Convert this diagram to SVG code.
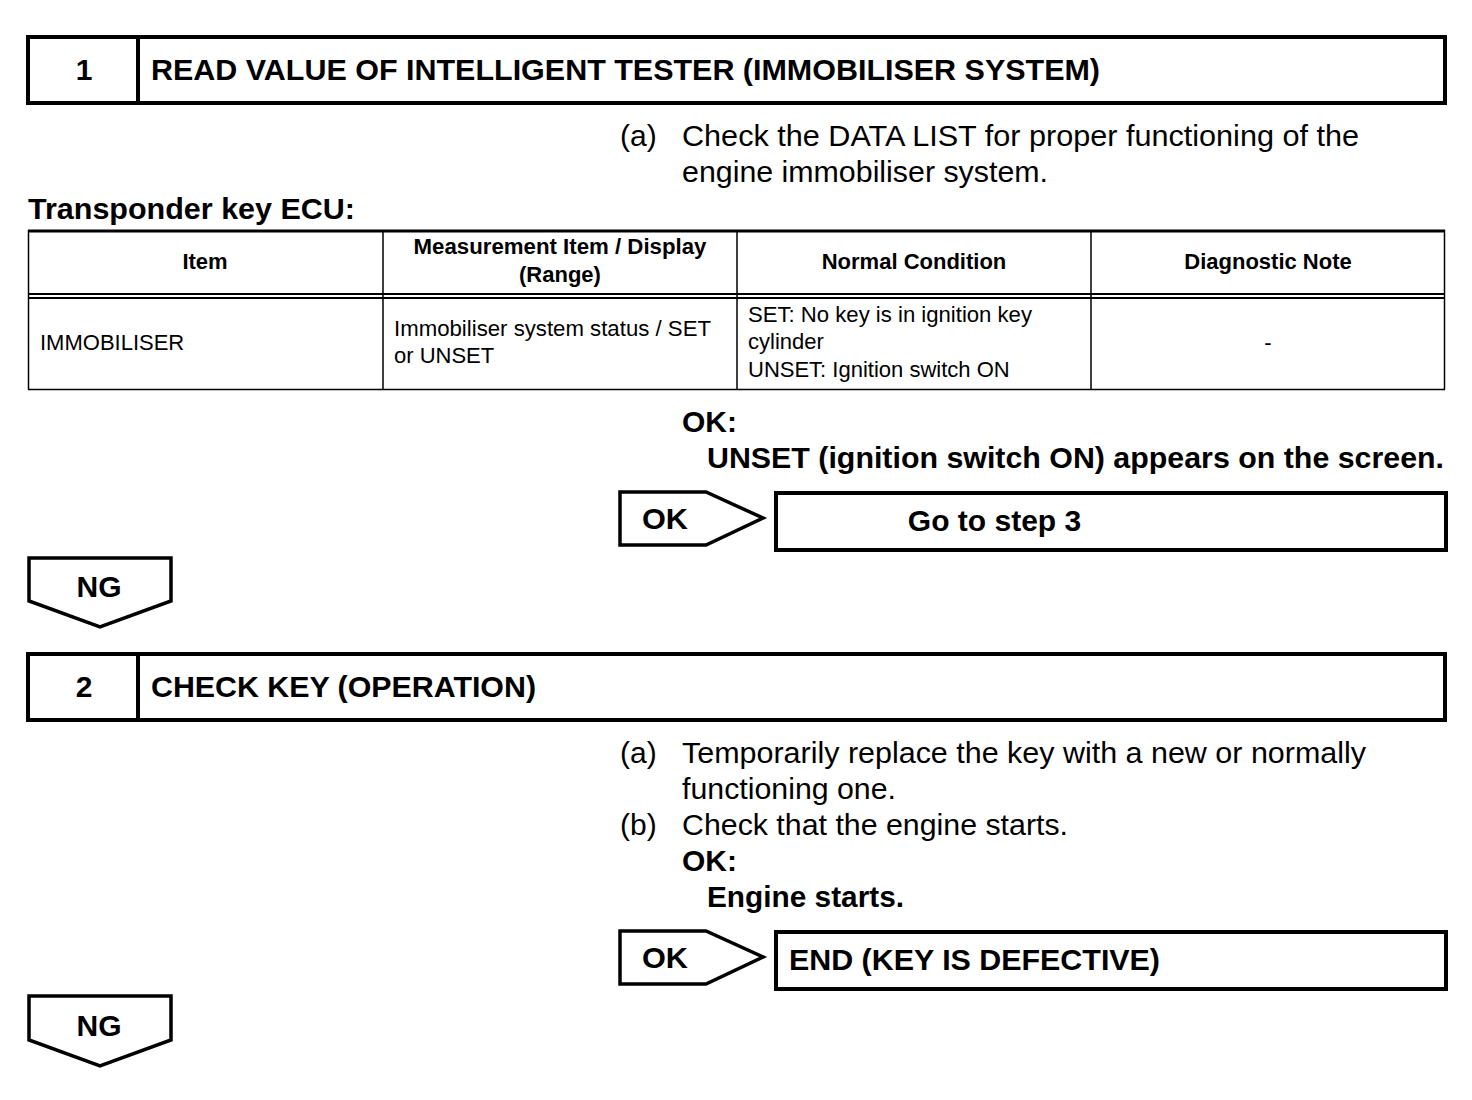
<svg xmlns="http://www.w3.org/2000/svg" width="1472" height="1100" viewBox="0 0 1472 1100">
<style>
text{font-family:"Liberation Sans",Arial,sans-serif;fill:#000}
.hd{font-size:30px;font-weight:bold}
.t{font-size:30px}
.tb{font-size:30px;font-weight:bold}
.th{font-size:22px;font-weight:bold}
.td{font-size:22px}
.box{fill:#fff;stroke:#000;stroke-width:4}
.line{stroke:#000;stroke-width:4;fill:none}
.thin{stroke:#000;stroke-width:1.5;fill:none}
.btn{fill:#fff;stroke:#000;stroke-width:3.5}
</style>
<rect width="1472" height="1100" fill="#fff"/>

<g id="step1-header">
<rect class="box" x="28" y="37" width="1417" height="66"/>
<line class="line" x1="138" y1="37" x2="138" y2="103"/>
<text class="hd" x="84" y="80" text-anchor="middle">1</text>
<text class="hd" x="151" y="80" textLength="949" lengthAdjust="spacingAndGlyphs">READ VALUE OF INTELLIGENT TESTER (IMMOBILISER SYSTEM)</text>
</g>

<g id="step1-text">
<text class="t" x="620" y="146">(a)</text>
<text class="t" x="682" y="146" textLength="677" lengthAdjust="spacingAndGlyphs">Check the DATA LIST for proper functioning of the</text>
<text class="t" x="682" y="182" textLength="366" lengthAdjust="spacingAndGlyphs">engine immobiliser system.</text>
<text class="tb" x="28" y="219" textLength="327" lengthAdjust="spacingAndGlyphs">Transponder key ECU:</text>
</g>

<g id="table">
<line class="thin" x1="28.5" y1="230" x2="28.5" y2="389.5"/>
<line class="thin" x1="1444.5" y1="230" x2="1444.5" y2="389.5"/>
<line class="thin" x1="383" y1="230" x2="383" y2="389.5"/>
<line class="thin" x1="737" y1="230" x2="737" y2="389.5"/>
<line class="thin" x1="1091" y1="230" x2="1091" y2="389.5"/>
<line stroke="#000" stroke-width="3" x1="28" y1="231" x2="1445" y2="231"/>
<line stroke="#000" stroke-width="2" x1="28" y1="294" x2="1445" y2="294"/>
<line stroke="#000" stroke-width="2" x1="28" y1="298" x2="1445" y2="298"/>
<line class="thin" x1="28" y1="389.5" x2="1445" y2="389.5"/>
<text class="th" x="205" y="269" text-anchor="middle">Item</text>
<text class="th" x="560" y="254" text-anchor="middle" textLength="293" lengthAdjust="spacingAndGlyphs">Measurement Item / Display</text>
<text class="th" x="560" y="282" text-anchor="middle">(Range)</text>
<text class="th" x="914" y="269" text-anchor="middle">Normal Condition</text>
<text class="th" x="1268" y="269" text-anchor="middle">Diagnostic Note</text>
<text class="td" x="40" y="350">IMMOBILISER</text>
<text class="td" x="394" y="336" textLength="317" lengthAdjust="spacingAndGlyphs">Immobiliser system status / SET</text>
<text class="td" x="394" y="363">or UNSET</text>
<text class="td" x="748" y="322" textLength="284" lengthAdjust="spacingAndGlyphs">SET: No key is in ignition key</text>
<text class="td" x="748" y="349">cylinder</text>
<text class="td" x="748" y="377">UNSET: Ignition switch ON</text>
<text class="td" x="1268" y="350" text-anchor="middle">-</text>
</g>

<g id="step1-ok-text">
<text class="tb" x="682" y="432">OK:</text>
<text class="tb" x="707" y="468" textLength="737" lengthAdjust="spacingAndGlyphs">UNSET (ignition switch ON) appears on the screen.</text>
</g>

<g id="ok1">
<polygon class="btn" points="620,492 706,492 763,518 706,545 620,545"/>
<text class="tb" x="642" y="529" textLength="46" lengthAdjust="spacingAndGlyphs">OK</text>
</g>

<g id="goto3">
<rect class="box" x="776" y="493" width="670" height="57"/>
<text class="tb" x="994.5" y="531" text-anchor="middle">Go to step 3</text>
</g>

<g id="ng1">
<polygon class="btn" points="29,558 171,558 171,601 100,627 29,601"/>
<text class="tb" x="99" y="597" text-anchor="middle">NG</text>
</g>

<g id="step2-header">
<rect class="box" x="28" y="654" width="1417" height="66"/>
<line class="line" x1="138" y1="654" x2="138" y2="720"/>
<text class="hd" x="84" y="697" text-anchor="middle">2</text>
<text class="hd" x="151" y="697" textLength="385" lengthAdjust="spacingAndGlyphs">CHECK KEY (OPERATION)</text>
</g>

<g id="step2-text">
<text class="t" x="620" y="763">(a)</text>
<text class="t" x="682" y="763" textLength="684" lengthAdjust="spacingAndGlyphs">Temporarily replace the key with a new or normally</text>
<text class="t" x="682" y="799" textLength="214" lengthAdjust="spacingAndGlyphs">functioning one.</text>
<text class="t" x="620" y="835">(b)</text>
<text class="t" x="682" y="835" textLength="386" lengthAdjust="spacingAndGlyphs">Check that the engine starts.</text>
<text class="tb" x="682" y="871">OK:</text>
<text class="tb" x="707" y="907" textLength="197" lengthAdjust="spacingAndGlyphs">Engine starts.</text>
</g>

<g id="ok2">
<polygon class="btn" points="620,931 706,931 763,957 706,984 620,984"/>
<text class="tb" x="642" y="968" textLength="46" lengthAdjust="spacingAndGlyphs">OK</text>
</g>

<g id="end">
<rect class="box" x="776" y="932" width="670" height="57"/>
<text class="tb" x="789" y="970" textLength="371" lengthAdjust="spacingAndGlyphs">END (KEY IS DEFECTIVE)</text>
</g>

<g id="ng2">
<polygon class="btn" points="29,996 171,996 171,1040 100,1066 29,1040"/>
<text class="tb" x="99" y="1036" text-anchor="middle">NG</text>
</g>

<g id="connectors"></g>
</svg>
